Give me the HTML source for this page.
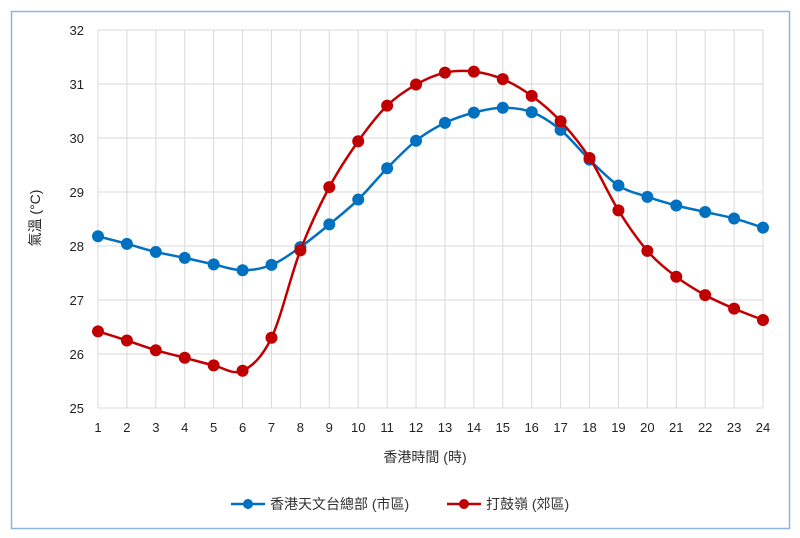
<!DOCTYPE html>
<html><head><meta charset="utf-8"><style>
body{margin:0;background:#fff;}
svg{display:block;font-family:"Liberation Sans","Noto Sans CJK TC",sans-serif;}
</style></head><body>
<svg id="s" width="800" height="538" xmlns="http://www.w3.org/2000/svg">
<rect x="11.5" y="11.5" width="778" height="517" fill="#fff" stroke="#8fb4de" stroke-width="1.5"/>
<g id="g"></g>
<text x="40" y="218" font-size="14" fill="#222" text-anchor="middle" transform="rotate(-90 40 218)">氣溫 (°C)</text>
<text x="425" y="462" font-size="14" fill="#333" text-anchor="middle">香港時間 (時)</text>
<line x1="231" y1="504" x2="265" y2="504" stroke="#0070C0" stroke-width="2.5"/>
<circle cx="248" cy="504" r="5" fill="#0070C0"/>
<text x="270" y="509" font-size="14" fill="#333">香港天文台總部 (市區)</text>
<line x1="447" y1="504" x2="481" y2="504" stroke="#C00000" stroke-width="2.5"/>
<circle cx="464" cy="504" r="5" fill="#C00000"/>
<text x="486" y="509" font-size="14" fill="#333">打鼓嶺 (郊區)</text>
</svg>
<script>
var g=document.getElementById('g'),h='';
function X(i){return 98+(i-1)*28.913;}
function Y(v){return 30+(32-v)*54;}
for(var v=25;v<=32;v++){h+='<line x1="98" x2="763" y1="'+Y(v)+'" y2="'+Y(v)+'" stroke="#d9d9d9" stroke-width="1"/>';
h+='<text x="84" y="'+(Y(v)+5)+'" font-size="13" fill="#222" text-anchor="end">'+v+'</text>';}
for(var i=1;i<=24;i++){h+='<line y1="30" y2="408" x1="'+X(i)+'" x2="'+X(i)+'" stroke="#d9d9d9" stroke-width="1"/>';
h+='<text x="'+X(i)+'" y="432" font-size="13" fill="#222" text-anchor="middle">'+i+'</text>';}
var B=[28.18,28.04,27.89,27.78,27.66,27.55,27.65,27.98,28.4,28.86,29.44,29.95,30.28,30.47,30.56,30.48,30.15,29.6,29.12,28.91,28.75,28.63,28.51,28.34];
var R=[26.42,26.25,26.07,25.93,25.79,25.69,26.3,27.92,29.09,29.94,30.6,30.99,31.21,31.23,31.09,30.78,30.31,29.63,28.66,27.91,27.43,27.09,26.84,26.63];
function series(d,c){var p=d.map(function(v,i){return [X(i+1),Y(v)];});
var s='M'+p[0][0]+','+p[0][1];
for(var i=0;i<p.length-1;i++){var p0=p[i-1]||p[i],p1=p[i],p2=p[i+1],p3=p[i+2]||p2,t=6;
s+=' C'+(p1[0]+(p2[0]-p0[0])/t)+','+(p1[1]+(p2[1]-p0[1])/t)+' '+(p2[0]-(p3[0]-p1[0])/t)+','+(p2[1]-(p3[1]-p1[1])/t)+' '+p2[0]+','+p2[1];}
var o='<path d="'+s+'" fill="none" stroke="'+c+'" stroke-width="2.5"/>';
p.forEach(function(q){o+='<circle cx="'+q[0]+'" cy="'+q[1]+'" r="6" fill="'+c+'"/>';});return o;}
h+=series(B,'#0070C0')+series(R,'#C00000');
g.innerHTML=h;
</script>
</body></html>
